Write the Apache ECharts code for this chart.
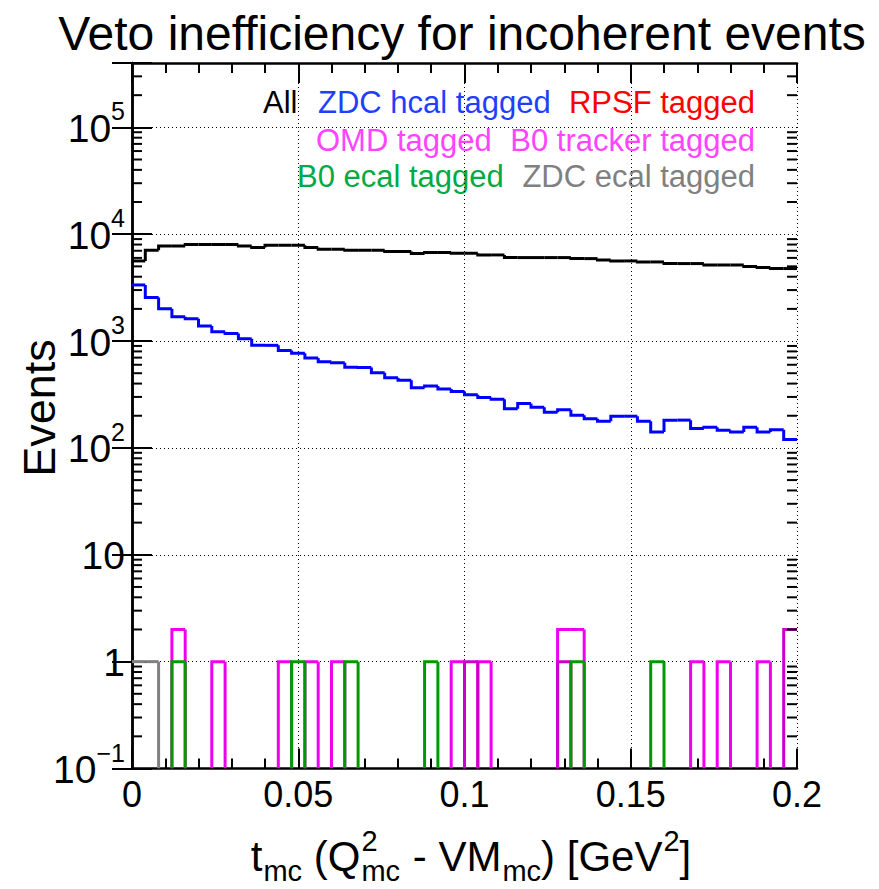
<!DOCTYPE html>
<html><head><meta charset="utf-8">
<script src="https://cdn.jsdelivr.net/npm/echarts@6/dist/echarts.min.js"></script>
<style>html,body{margin:0;padding:0;background:#fff}#c{width:879px;height:889px}</style>
</head><body><div id="c"></div>
<script>
// ---------------- data ----------------
const xRange = [0, 0.2];
const nBins = 50;
const xTicks = [0, 0.05, 0.1, 0.15, 0.2];
const yRange = [0.1, 4e5];
// y tick labels: value, mantissa text, exponent text
const yTickValues = [0.1, 1, 10, 100, 1000, 10000, 100000];
const yTickBase = ['10', '1', '10', '10', '10', '10', '10'];
const yTickExp = ['\u22121', '', '', '2', '3', '4', '5'];

const allEvents = [5620, 7080, 7760, 7760, 8000, 8000, 8000, 8000, 7760, 7500,
  7890, 7890, 7890, 7500, 7230, 7230, 7080, 7080, 7080, 6890,
  6890, 6590, 6730, 6730, 6620, 6620, 6400, 6400, 6040, 6040,
  6040, 6040, 6040, 5910, 5910, 5740, 5620, 5620, 5500, 5500,
  5310, 5310, 5310, 5150, 5150, 5150, 4980, 4870, 4770, 4770];
const zdcHcal = [3350, 2550, 2010, 1690, 1620, 1380, 1225, 1180, 1050, 912,
  912, 818, 767, 695, 641, 627, 570, 566, 505, 454,
  430, 366, 379, 355, 337, 314, 297, 286, 233, 260,
  240, 216, 228, 202, 187, 178, 198, 198, 178, 141,
  182, 182, 152, 156, 146, 141, 156, 141, 148, 120];
const rpsf = [0,0,0,0,0,0,0,0,0,0, 0,0,0,0,0,0,0,0,0,0, 0,0,0,0,0,0,0,0,0,0,
  0,0,0,0,0,0,0,0,0,0, 0,0,0,0,0,0,0,0,0,0];
const omd = [0,0,0,2,0,0,1,0,0,0, 0,1,0,1,0,1,0,0,0,0, 0,0,0,0,1,0,1,0,0,0,
  0,0,2,2,0,0,0,0,0,0, 0,0,1,0,1,0,0,1,0,0];
const b0Tracker = [0,0,0,0,0,0,0,0,0,0, 0,0,0,0,0,0,0,0,0,0, 0,0,0,0,0,1,0,0,0,0,
  0,0,1,0,0,0,0,0,0,0, 0,0,0,0,0,0,0,0,0,2];
const b0Ecal = [0,0,0,1,0,0,0,0,0,0, 0,0,1,0,0,0,1,0,0,0, 0,0,1,0,0,0,0,0,0,0,
  0,0,0,1,0,0,0,0,0,1, 0,0,0,0,0,0,0,0,0,0];
const zdcEcal = [1,1,0,0,0,0,0,0,0,0, 0,0,0,0,0,0,0,0,0,0, 0,0,0,0,0,0,0,0,0,0,
  0,0,0,0,0,0,0,0,0,0, 0,0,0,0,0,0,0,0,0,0];

// ---------------- helpers ----------------
const FONT = "'Liberation Sans', Arial, Helvetica, sans-serif";
const binW = (xRange[1] - xRange[0]) / nBins;
const ctx = document.createElement('canvas').getContext('2d');
function tw(t, s) { ctx.font = s + 'px ' + FONT; return ctx.measureText(t).width; }

function histSeries(name, vals, color) {
  const data = vals.map((v, i) => [xRange[0] + i * binW, xRange[0] + (i + 1) * binW, v, i > 0 ? vals[i - 1] : 0]);
  return {
    type: 'custom', name, data, clip: true, silent: true,
    encode: { x: [0, 1], y: 2 },
    renderItem(params, api) {
      const lo = api.value(0), hi = api.value(1), v = api.value(2), pv = api.value(3);
      if (v <= 0 && pv <= 0) return null;
      const yv = v > 0 ? v : yRange[0];
      const ypv = pv > 0 ? pv : yRange[0];
      const p0 = api.coord([lo, ypv]), p1 = api.coord([lo, yv]), p2 = api.coord([hi, yv]);
      let pts;
      if (v <= 0) pts = [p0, p1];
      else if (params.dataIndex === 0) pts = [p1, p2];
      else pts = [p0, p1, p2];
      return { type: 'polyline', shape: { points: pts }, style: { stroke: color, lineWidth: 3, fill: null, lineJoin: 'miter' } };
    }
  };
}

// minor tick values for log axis (2..9 x 10^n)
const minorVals = [];
for (let e = -1; e <= 5; e++) for (let k = 2; k <= 9; k++) { const v = k * Math.pow(10, e); if (v < yRange[1]) minorVals.push([0, v]); }

const minorTickSeries = {
  type: 'custom', name: 'minor', data: minorVals, silent: true, clip: false, z: 10,
  encode: { x: 0, y: 1 },
  renderItem(params, api) {
    const v = api.value(1);
    const l = api.coord([xRange[0], v]), r = api.coord([xRange[1], v]);
    return { type: 'group', children: [
      { type: 'line', shape: { x1: l[0], y1: l[1], x2: l[0] + 10, y2: l[1] }, style: { stroke: '#000', lineWidth: 2 } },
      { type: 'line', shape: { x1: r[0], y1: r[1], x2: r[0] - 10, y2: r[1] }, style: { stroke: '#000', lineWidth: 2 } }
    ] };
  }
};

// y tick labels with superscript exponents
const BF = 39, EF = 25;
const yLabelSeries = {
  type: 'custom', name: 'ylabels', silent: true, clip: false, z: 10,
  data: yTickValues.map((v, i) => [0, v, i]),
  encode: { x: 0, y: 1 },
  renderItem(params, api) {
    const v = api.value(1), i = api.value(2);
    const p = api.coord([xRange[0], v]);
    const right = p[0] - 7;
    const exp = yTickExp[i];
    const ew = exp ? tw(exp, EF) : 0;
    const children = [
      { type: 'text', x: right - ew, y: p[1] + 1, style: { text: yTickBase[i], font: BF + 'px ' + FONT, fill: '#000', align: 'right', verticalAlign: 'middle' } }
    ];
    if (exp) children.push({ type: 'text', x: right, y: p[1] - 16, style: { text: exp, font: EF + 'px ' + FONT, fill: '#000', align: 'right', verticalAlign: 'middle' } });
    return { type: 'group', children };
  }
};

const chart = echarts.init(document.getElementById('c'), null, { renderer: 'svg' });

const gridLine = { show: true, lineStyle: { color: '#000', width: 1, type: [1, 3] } };
const axisLineStyle = { show: true, lineStyle: { color: '#000', width: 2.5 } };

// x title pieces measured
const MF = 42, SF = 29;
const titleParts = [
  { t: 't', k: 'n' }, { t: 'mc', k: 'sub' }, { t: ' (Q', k: 'n' }, { t: ['2', 'mc'], k: 'ss' },
  { t: ' - VM', k: 'n' }, { t: 'mc', k: 'sub' }, { t: ') [GeV', k: 'n' }, { t: '2', k: 'sup' }, { t: ']', k: 'n' }
];
let totalW = 0;
titleParts.forEach(p => {
  if (p.k === 'n') p.w = tw(p.t, MF);
  else if (p.k === 'ss') p.w = Math.max(tw(p.t[0], SF), tw(p.t[1], SF)) + 2;
  else p.w = tw(p.t, SF) + 1;
  totalW += p.w;
});
const xTitleCenter = 471, xTitleMid = 856;
let cx = xTitleCenter - totalW / 2;
const xTitleEls = [];
titleParts.forEach(p => {
  const base = { type: 'text', silent: true };
  if (p.k === 'n') xTitleEls.push({ ...base, x: cx, y: xTitleMid, style: { text: p.t, font: MF + 'px ' + FONT, fill: '#000', verticalAlign: 'middle' } });
  else if (p.k === 'sub') xTitleEls.push({ ...base, x: cx + 1, y: xTitleMid + 15, style: { text: p.t, font: SF + 'px ' + FONT, fill: '#000', verticalAlign: 'middle' } });
  else if (p.k === 'sup') xTitleEls.push({ ...base, x: cx + 1, y: xTitleMid - 15, style: { text: p.t, font: SF + 'px ' + FONT, fill: '#000', verticalAlign: 'middle' } });
  else {
    xTitleEls.push({ ...base, x: cx + 1, y: xTitleMid - 15, style: { text: p.t[0], font: SF + 'px ' + FONT, fill: '#000', verticalAlign: 'middle' } });
    xTitleEls.push({ ...base, x: cx + 1, y: xTitleMid + 15, style: { text: p.t[1], font: SF + 'px ' + FONT, fill: '#000', verticalAlign: 'middle' } });
  }
  cx += p.w;
});

const legendFont = '31px ' + FONT;
function legText(t, x, y, c, align) { return { type: 'text', silent: true, x, y, style: { text: t, font: legendFont, fill: c, align: align || 'left', verticalAlign: 'middle' } }; }

chart.setOption({
  animation: false,
  backgroundColor: '#fff',
  title: { text: 'Veto inefficiency for incoherent events', left: 457, top: 4, textAlign: 'center',
    textStyle: { fontFamily: FONT, fontSize: 48, fontWeight: 'normal', color: '#000' } },
  grid: { left: 132, right: 82, top: 63, bottom: 120.5 },
  xAxis: [{
    type: 'value', min: xRange[0], max: xRange[1], interval: 0.05, position: 'bottom',
    axisLine: axisLineStyle,
    axisTick: { show: true, inside: true, length: 20, lineStyle: { color: '#000', width: 2 } },
    minorTick: { show: true, splitNumber: 5, length: 10, lineStyle: { color: '#000', width: 2 } },
    axisLabel: { fontFamily: FONT, fontSize: 36, color: '#000', margin: 8,
      formatter: v => { const m = xTicks.find(t => Math.abs(t - v) < 1e-9); return m === undefined ? '' : String(+m.toFixed(3)); } },
    splitLine: gridLine
  }, {
    type: 'value', min: xRange[0], max: xRange[1], interval: 0.05, position: 'top',
    axisLine: axisLineStyle,
    axisTick: { show: true, inside: true, length: 20, lineStyle: { color: '#000', width: 2 } },
    minorTick: { show: true, splitNumber: 5, length: 10, lineStyle: { color: '#000', width: 2 } },
    axisLabel: { show: false }, splitLine: { show: false }
  }],
  yAxis: [{
    type: 'log', logBase: 10, min: yRange[0], max: yRange[1], position: 'left',
    axisLine: axisLineStyle,
    axisTick: { show: true, inside: true, length: 20, lineStyle: { color: '#000', width: 2 } },
    minorTick: { show: false },
    axisLabel: { show: false },
    splitLine: gridLine
  }, {
    type: 'log', logBase: 10, min: yRange[0], max: yRange[1], position: 'right',
    axisLine: axisLineStyle,
    axisTick: { show: true, inside: true, length: 20, lineStyle: { color: '#000', width: 2 } },
    axisLabel: { show: false }, splitLine: { show: false }
  }],
  graphic: [
    { type: 'text', silent: true, x: 39, y: 408, rotation: Math.PI / 2,
      style: { text: 'Events', font: '45px ' + FONT, fill: '#000', align: 'center', verticalAlign: 'middle' } },
    legText('All', 263, 102, '#000'),
    legText('ZDC hcal tagged', 318, 102, '#1f3fff'),
    legText('RPSF tagged', 755, 102, '#ff0000', 'right'),
    legText('OMD tagged', 316, 140, '#ff44ff'),
    legText('B0 tracker tagged', 755, 140, '#ff44ff', 'right'),
    legText('B0 ecal tagged', 297, 176, '#00aa44'),
    legText('ZDC ecal tagged', 755, 176, '#808080', 'right'),
    ...xTitleEls
  ],
  series: [
    histSeries('All', allEvents, '#000000'),
    histSeries('ZDC hcal tagged', zdcHcal, '#0000ff'),
    histSeries('RPSF tagged', rpsf, '#ff0000'),
    histSeries('OMD tagged', omd, '#ee00ee'),
    histSeries('B0 tracker tagged', b0Tracker, '#cc00cc'),
    histSeries('B0 ecal tagged', b0Ecal, '#009900'),
    histSeries('ZDC ecal tagged', zdcEcal, '#808080'),
    minorTickSeries,
    yLabelSeries
  ]
});
</script></body></html>
